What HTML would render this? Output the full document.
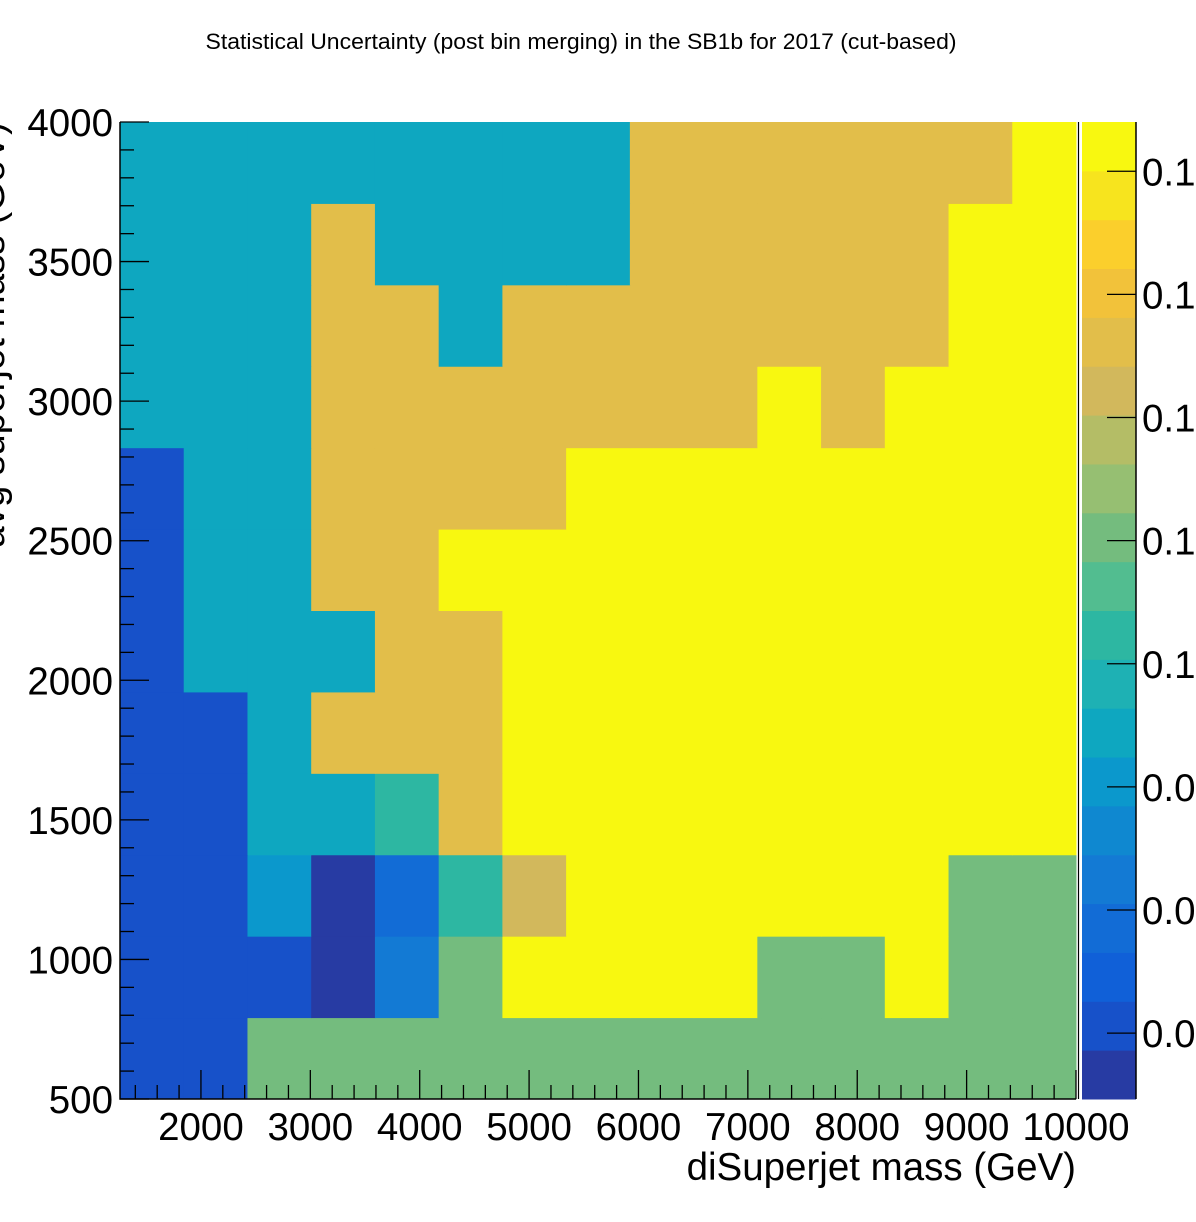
<!DOCTYPE html>
<html><head><meta charset="utf-8"><style>
html,body{margin:0;padding:0;background:#fff;overflow:hidden;width:1196px;height:1222px}
svg{display:block}
text{font-family:"Liberation Sans",sans-serif;fill:#000}
</style></head><body>
<svg id="chart" width="1196" height="1222" viewBox="0 0 1196 1222">
<text x="581" y="49" font-size="22.5" text-anchor="middle" textLength="751" lengthAdjust="spacingAndGlyphs">Statistical Uncertainty (post bin merging) in the SB1b for 2017 (cut-based)</text>
<g id="cells"></g>
<g id="axes"></g>
<g id="cbar"></g>
<line x1="1078.5" x2="1078.5" y1="122" y2="1099" stroke="#000" stroke-width="1.2"/>
<text x="1076" y="1180" font-size="38.5" text-anchor="end">diSuperjet mass (GeV)</text>
<text x="0" y="0" font-size="38.5" text-anchor="end" transform="translate(4,122) rotate(-90)">avg superjet mass (GeV)</text>
</svg>
<script>
const xEdgesRange = [1260, 10000];
const yEdgesRange = [500, 4000];
const nCols = 15;
const nRows = 12;
const zRange = [0.0293, 0.188];
const xTicks = [2000,3000,4000,5000,6000,7000,8000,9000,10000];
const yTicks = [500,1000,1500,2000,2500,3000,3500,4000];
const zTicks = [0.04,0.06,0.08,0.10,0.12,0.14,0.16,0.18];
const zTickLabels = ["0.04","0.06","0.08","0.1","0.12","0.14","0.16","0.18"];
const palette = ["#273ba3","#1751c9","#1060d8","#126cd6","#137ad4","#0f88d0","#0b98cc","#0ea7c0","#1eb1b4","#2db7a2","#52bd90","#74bc7e","#96bf72","#b4bd66","#d2b85c","#e2be4a","#f2c23a","#fbcf2c","#f7e41e","#f8f810"];
// cell values, rows from bottom (500 GeV) to top
const row0  = [0.0412,0.0412,0.1207,0.1207,0.1207,0.1207,0.1207,0.1207,0.1207,0.1207,0.1207,0.1207,0.1207,0.1207,0.1207];
const row1  = [0.0412,0.0412,0.0412,0.0333,0.0650,0.1207,0.1843,0.1843,0.1843,0.1843,0.1207,0.1207,0.1843,0.1207,0.1207];
const row2  = [0.0412,0.0412,0.0809,0.0333,0.0571,0.1048,0.1446,0.1843,0.1843,0.1843,0.1843,0.1843,0.1843,0.1207,0.1207];
const row3  = [0.0412,0.0412,0.0889,0.0889,0.1048,0.1525,0.1843,0.1843,0.1843,0.1843,0.1843,0.1843,0.1843,0.1843,0.1843];
const row4  = [0.0412,0.0412,0.0889,0.1525,0.1525,0.1525,0.1843,0.1843,0.1843,0.1843,0.1843,0.1843,0.1843,0.1843,0.1843];
const row5  = [0.0412,0.0889,0.0889,0.0889,0.1525,0.1525,0.1843,0.1843,0.1843,0.1843,0.1843,0.1843,0.1843,0.1843,0.1843];
const row6  = [0.0412,0.0889,0.0889,0.1525,0.1525,0.1843,0.1843,0.1843,0.1843,0.1843,0.1843,0.1843,0.1843,0.1843,0.1843];
const row7  = [0.0412,0.0889,0.0889,0.1525,0.1525,0.1525,0.1525,0.1843,0.1843,0.1843,0.1843,0.1843,0.1843,0.1843,0.1843];
const row8  = [0.0889,0.0889,0.0889,0.1525,0.1525,0.1525,0.1525,0.1525,0.1525,0.1525,0.1843,0.1525,0.1843,0.1843,0.1843];
const row9  = [0.0889,0.0889,0.0889,0.1525,0.1525,0.0889,0.1525,0.1525,0.1525,0.1525,0.1525,0.1525,0.1525,0.1843,0.1843];
const row10 = [0.0889,0.0889,0.0889,0.1525,0.0889,0.0889,0.0889,0.0889,0.1525,0.1525,0.1525,0.1525,0.1525,0.1843,0.1843];
const row11 = [0.0889,0.0889,0.0889,0.0889,0.0889,0.0889,0.0889,0.0889,0.1525,0.1525,0.1525,0.1525,0.1525,0.1525,0.1843];
const rows = [row0,row1,row2,row3,row4,row5,row6,row7,row8,row9,row10,row11];

const NS = "http://www.w3.org/2000/svg";
const PX0 = 120, PX1 = 1076, PY0 = 1099, PY1 = 122;
const CB0 = 1082, CB1 = 1136;
function xs(v){return PX0 + (v - xEdgesRange[0])/(xEdgesRange[1]-xEdgesRange[0])*(PX1-PX0);}
function ys(v){return PY0 - (v - yEdgesRange[0])/(yEdgesRange[1]-yEdgesRange[0])*(PY0-PY1);}
function zs(v){return PY0 - (v - zRange[0])/(zRange[1]-zRange[0])*(PY0-PY1);}
function colorOf(v){
  let i = Math.floor((v - zRange[0])/(zRange[1]-zRange[0])*palette.length);
  i = Math.max(0, Math.min(palette.length-1, i));
  return palette[i];
}
function mk(tag, attrs, parent){
  const e = document.createElementNS(NS, tag);
  for (const k in attrs) e.setAttribute(k, attrs[k]);
  parent.appendChild(e);
  return e;
}
const cells = document.getElementById('cells');
const dx = (xEdgesRange[1]-xEdgesRange[0])/nCols;
const dy = (yEdgesRange[1]-yEdgesRange[0])/nRows;
rows.forEach((row, r) => {
  row.forEach((v, c) => {
    const x0 = xs(xEdgesRange[0] + c*dx), x1 = xs(xEdgesRange[0] + (c+1)*dx);
    const y1 = ys(yEdgesRange[0] + r*dy), y0 = ys(yEdgesRange[0] + (r+1)*dy);
    const e = mk('rect', {x:x0, y:y0, width:x1-x0+0.5, height:y1-y0+0.5, fill:colorOf(v)}, cells);
    
    
  });
});
const axes = document.getElementById('axes');
let fr = mk('path', {d:`M${PX0} ${PY1} V${PY0} H${PX1}`, stroke:'#000', 'stroke-width':1.5, fill:'none'}, axes);


for (let v = 1400; v <= 10000; v += 200) {
  const major = v % 1000 === 0;
  const x = xs(v);
  const t = mk('line', {x1:x, x2:x, y1:PY0, y2:PY0-(major?29:14), stroke:'#000', 'stroke-width':1.3}, axes);
  
  
}
xTicks.forEach(v => {
  const t = mk('text', {x:xs(v), y:1140, 'font-size':38.5, 'text-anchor':'middle'}, axes);
  t.textContent = v;
  
  
});
for (let v = 500; v <= 4000; v += 100) {
  const major = v % 500 === 0;
  const y = ys(v);
  const t = mk('line', {x1:PX0, x2:PX0+(major?29:14), y1:y, y2:y, stroke:'#000', 'stroke-width':1.3}, axes);
  
  
}
yTicks.forEach(v => {
  const t = mk('text', {x:113, y:ys(v)+14, 'font-size':38.5, 'text-anchor':'end'}, axes);
  t.textContent = v;
  
  
});
const cbar = document.getElementById('cbar');
palette.forEach((col, i) => {
  const y0 = PY0 - (i+1)*(PY0-PY1)/palette.length, y1 = PY0 - i*(PY0-PY1)/palette.length;
  const e = mk('rect', {x:CB0, y:y0, width:CB1-CB0, height:y1-y0+0.5, fill:col}, cbar);
  
  
});
let ca = mk('line', {x1:CB1, x2:CB1, y1:PY1, y2:PY0, stroke:'#000', 'stroke-width':1.5}, cbar);


zTicks.forEach((v, i) => {
  const y = zs(v);
  const t = mk('line', {x1:CB1-29, x2:CB1, y1:y, y2:y, stroke:'#000', 'stroke-width':1.3}, cbar);
  
  
  const l = mk('text', {x:1142, y:y+14, 'font-size':38.5}, cbar);
  l.textContent = zTickLabels[i];
  
  
});
</script>
</body></html>
